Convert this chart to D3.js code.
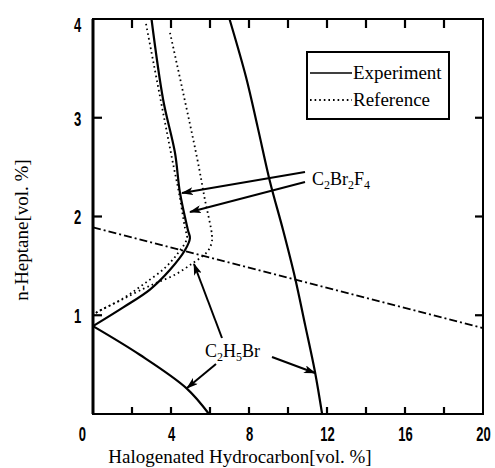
<!DOCTYPE html>
<html>
<head>
<meta charset="utf-8" />
<style>
  body { margin: 0; background: #fff; }
  svg text { font-family: "Liberation Serif", "Times New Roman", serif; fill: #000; }
  .tick-num { font-family: "Liberation Sans", Arial, sans-serif !important; font-weight: bold; font-size: 21px; }
  .domain { display: none; }
</style>
</head>
<body>
<div id="chart"></div>
<script src="https://cdn.jsdelivr.net/npm/d3@7"></script>
<script>
// C2Br2F4 experiment (solid, upper left branch)
var expBrFX = [3.0, 3.6, 4.2, 4.46, 4.87, 4.97, 4.72, 3.95, 2.92, 1.55, 0];
var expBrFY = [4.0, 3.18, 2.65, 2.24, 1.86, 1.78, 1.66, 1.46, 1.26, 1.08, 0.89];
// C2Br2F4 reference (dotted, inner)
var refBrFX = [2.72, 4.05, 4.41, 4.72, 4.82, 4.36, 3.69, 2.56, 1.54, 0.2, 0];
var refBrFY = [3.95, 2.59, 2.24, 1.88, 1.78, 1.63, 1.48, 1.31, 1.17, 1.03, 1.0];
// C2H5Br reference (dotted, outer)
var refEtX = [3.95, 5.33, 5.74, 6.1, 6.08, 5.85, 5.13, 4.2, 3.28, 2.6, 1.5, 0.2, 0];
var refEtY = [3.86, 2.6, 2.17, 1.81, 1.73, 1.64, 1.53, 1.41, 1.33, 1.27, 1.16, 1.03, 1.0];
// C2H5Br experiment (solid, right branch and lower branch)
var expEtX = [7.0, 7.85, 8.45, 9.08, 9.75, 10.36, 10.88, 11.38, 11.75];
var expEtY = [4.0, 3.41, 2.9, 2.35, 1.86, 1.38, 0.9, 0.43, 0];
var expLowX = [0, 2.4, 4.8, 5.95];
var expLowY = [0.89, 0.6, 0.26, 0];
// stoichiometric line (dash-dot)
var stoichX = [0, 20];
var stoichY = [1.89, 0.87];

var xTicks = [2, 4, 6, 8, 10, 12, 14, 16, 18];
var xLabels = [0, 4, 8, 12, 16, 20];
var yTicks = [1, 2, 3];
var yLabels = [1, 2, 3, 4];

var width = 495, height = 468;
var margin = {top: 19, right: 12, bottom: 54, left: 93};
var w = width - margin.left - margin.right;
var h = height - margin.top - margin.bottom;

var svg = d3.select('#chart').append('svg')
  .attr('width', width).attr('height', height);
var g = svg.append('g')
  .attr('transform', 'translate(' + margin.left + ',' + margin.top + ')');

var x = d3.scaleLinear().domain([0, 20]).range([0, w]);
var y = d3.scaleLinear().domain([0, 4]).range([h, 0]);

function pts(xs, ys) {
  return xs.map(function(v, i) { return [v, ys[i]]; });
}

var line = d3.line()
  .x(function(d) { return x(d[0]); })
  .y(function(d) { return y(d[1]); })
  .curve(d3.curveCatmullRom.alpha(0.5));

// tick labels via axes
var bottom = g.append('g').attr('transform', 'translate(0,' + h + ')')
  .call(d3.axisBottom(x).tickValues(xLabels).tickSize(0).tickPadding(12));
bottom.selectAll('text').attr('class', 'tick-num')
  .attr('transform', 'scale(0.62,1)')
  .attr('x', function(d) { return d === 0 ? -18 : 0; });

var left = g.append('g')
  .call(d3.axisLeft(y).tickValues(yLabels).tickSize(0).tickPadding(0)
    .tickFormat(d3.format('d')));
left.selectAll('text').attr('class', 'tick-num')
  .attr('transform', 'scale(0.62,1)')
  .attr('x', -19)
  .attr('dy', function(d) { return d === 4 ? '0.6em' : '0.35em'; });

// frame
g.append('rect').attr('width', w).attr('height', h)
  .attr('fill', 'none').attr('stroke', '#000').attr('stroke-width', 2);
g.append('line').attr('x1', 0).attr('x2', 0).attr('y1', 0).attr('y2', h)
  .attr('stroke', '#000').attr('stroke-width', 3);

// inward tick marks
var tk = g.append('g').attr('class', 'ticks');
tk.selectAll('path.xb').data(xTicks).enter().append('path').attr('class', 'xb')
  .attr('d', function(d) { return 'M' + x(d) + ',' + h + 'V' + (h - 7); });
tk.selectAll('path.xt').data(xTicks).enter().append('path').attr('class', 'xt')
  .attr('d', function(d) { return 'M' + x(d) + ',0V9'; });
tk.selectAll('path.yl').data(yTicks).enter().append('path').attr('class', 'yl')
  .attr('d', function(d) { return 'M0,' + y(d) + 'H9'; });
tk.selectAll('path.yr').data(yTicks).enter().append('path').attr('class', 'yr')
  .attr('d', function(d) { return 'M' + w + ',' + y(d) + 'H' + (w - 8); });
tk.selectAll('path').attr('fill', 'none').attr('stroke', '#000').attr('stroke-width', 2.2);

// curves
var solid = [pts(expBrFX, expBrFY), pts(expEtX, expEtY), pts(expLowX, expLowY)];
var dotted = [pts(refBrFX, refBrFY), pts(refEtX, refEtY)];

g.selectAll('path.solid').data(solid).enter().append('path')
  .attr('class', 'solid').attr('d', line)
  .attr('fill', 'none').attr('stroke', '#000').attr('stroke-width', 2.2);

g.selectAll('path.dotted').data(dotted).enter().append('path')
  .attr('class', 'dotted').attr('d', line)
  .attr('fill', 'none').attr('stroke', '#000').attr('stroke-width', 1.8)
  .attr('stroke-dasharray', '1.6,3.2');

g.append('path').datum(pts(stoichX, stoichY))
  .attr('d', d3.line().x(function(d) { return x(d[0]); }).y(function(d) { return y(d[1]); }))
  .attr('fill', 'none').attr('stroke', '#000').attr('stroke-width', 1.8)
  .attr('stroke-dasharray', '8,3,2,3');

// annotation arrows
svg.append('defs').append('marker')
  .attr('id', 'ah').attr('viewBox', '0 0 12 8').attr('refX', 11).attr('refY', 4)
  .attr('markerWidth', 12).attr('markerHeight', 8).attr('markerUnits', 'userSpaceOnUse')
  .attr('orient', 'auto')
  .append('path').attr('d', 'M0,0 L12,4 L0,8 L3,4 Z').attr('fill', '#000');

var arrows = [
  [305, 172, 182, 193], [305, 182, 190, 212],
  [222, 338, 194, 264], [216, 364, 187, 388], [272, 357, 315, 373]
];
svg.selectAll('line.arrow').data(arrows).enter().append('line')
  .attr('class', 'arrow')
  .attr('x1', function(d) { return d[0]; }).attr('y1', function(d) { return d[1]; })
  .attr('x2', function(d) { return d[2]; }).attr('y2', function(d) { return d[3]; })
  .attr('stroke', '#000').attr('stroke-width', 2).attr('marker-end', 'url(#ah)');

function formula(xp, yp, parts) {
  var t = svg.append('text').attr('x', xp).attr('y', yp).attr('font-size', 18);
  var low = false;
  parts.forEach(function(p) {
    var s = t.append('tspan').text(p[0]);
    if (p[1]) {
      s.attr('font-size', 12);
      if (!low) s.attr('dy', 4);
      low = true;
    } else if (low) {
      s.attr('dy', -4);
      low = false;
    }
  });
}
formula(312, 185, [['C'], ['2', 1], ['Br'], ['2', 1], ['F'], ['4', 1]]);
formula(205, 357, [['C'], ['2', 1], ['H'], ['5', 1], ['Br']]);

// legend
var lg = svg.append('g');
lg.append('rect').attr('x', 307).attr('y', 52).attr('width', 142).attr('height', 67)
  .attr('fill', '#fff').attr('stroke', '#000').attr('stroke-width', 2);
lg.append('line').attr('x1', 310).attr('x2', 352).attr('y1', 73).attr('y2', 73)
  .attr('stroke', '#000').attr('stroke-width', 1.5);
lg.append('line').attr('x1', 310).attr('x2', 352).attr('y1', 100).attr('y2', 100)
  .attr('stroke', '#000').attr('stroke-width', 1.8).attr('stroke-dasharray', '1.6,3');
lg.append('text').attr('x', 353).attr('y', 79).attr('font-size', 19).text('Experiment');
lg.append('text').attr('x', 353).attr('y', 106).attr('font-size', 19).text('Reference');

// axis titles
svg.append('text').attr('x', 240).attr('y', 463).attr('text-anchor', 'middle')
  .attr('font-size', 19).text('Halogenated Hydrocarbon[vol. %]');
svg.append('text').attr('transform', 'translate(28,230) rotate(-90)')
  .attr('text-anchor', 'middle').attr('font-size', 19).text('n-Heptane[vol. %]');
</script>
</body>
</html>
